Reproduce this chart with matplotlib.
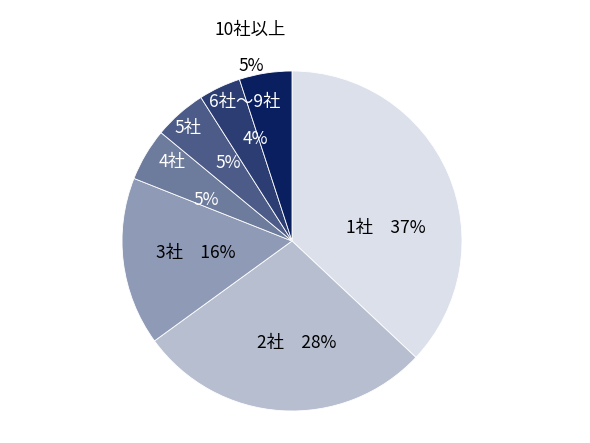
import matplotlib
matplotlib.use("Agg")
import matplotlib.pyplot as plt

plt.rcParams['font.family'] = ['Noto Sans CJK JP', 'DejaVu Sans']

categories = ["1社", "2社", "3社", "4社", "5社", "6社～9社", "10社以上"]
values = [37, 28, 16, 5, 5, 4, 5]
colors = ["#dce0ea", "#b6bed0", "#8f9bb6", "#6d7b9c", "#4c5b87", "#2b3d72", "#0a1f5f"]

fig = plt.figure(figsize=(5.9, 4.43), dpi=100)
# center at (292,241) px, radius 170 px
ax = fig.add_axes([(292 - 170) / 590, (443 - 241 - 170) / 443, 340 / 590, 340 / 443])
ax.pie(values, colors=colors, startangle=90, counterclock=False, radius=1,
       wedgeprops=dict(edgecolor="white", linewidth=0.6))
ax.set_xlim(-1, 1)
ax.set_ylim(-1, 1)
ax.set_aspect('auto')
ax.axis('off')

fs = 12.5
def t(x, y, s, c):
    ax.text(x, y, s, ha='center', va='center', fontsize=fs, color=c, clip_on=False)

t(0.553, 0.076, f"{categories[0]}　{values[0]}%", "black")
t(0.029, -0.60, f"{categories[1]}　{values[1]}%", "black")
t(-0.565, -0.071, f"{categories[2]}　{values[2]}%", "black")
t(-0.706, 0.465, categories[3], "white")
t(-0.506, 0.241, f"{values[3]}%", "white")
t(-0.612, 0.665, categories[4], "white")
t(-0.376, 0.459, f"{values[4]}%", "white")
t(-0.276, 0.818, categories[5], "white")
t(-0.218, 0.600, f"{values[5]}%", "white")
t(-0.247, 1.24, categories[6], "black")
t(-0.241, 1.029, f"{values[6]}%", "black")

fig.savefig("out.png", dpi=100)
